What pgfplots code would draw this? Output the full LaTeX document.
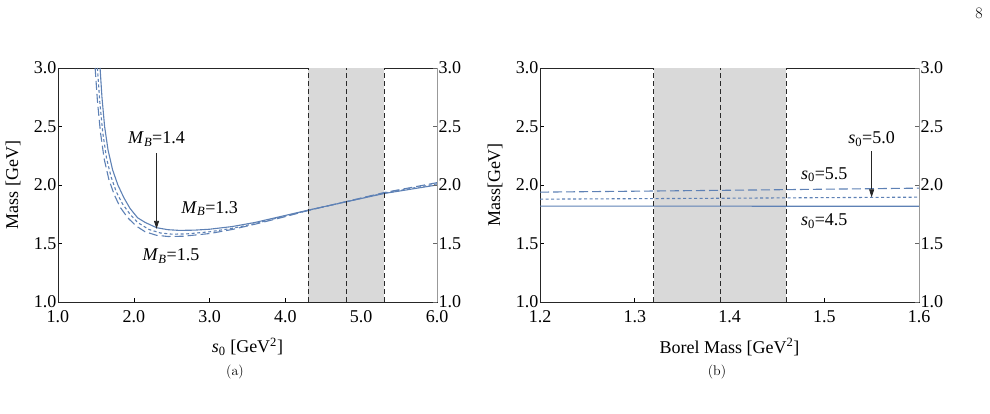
\documentclass[border=0pt]{standalone}
\usepackage{pgfplots}
\pgfplotsset{compat=1.18}
\usepackage{fontspec}
\setmainfont{Liberation Serif}
\newfontfamily\lmfont{Latin Modern Roman}
\usetikzlibrary{arrows.meta}
\definecolor{mblue}{HTML}{5E81B5}
\definecolor{shade}{HTML}{D9D9D9}
\definecolor{vline}{HTML}{2A2A2A}

\newcommand{\lblfont}{\fontsize{18}{21}\selectfont}
\tikzset{
  ann/.style={font=\lblfont},
  arr/.style={-{Triangle[length=8pt,width=5pt]}, line width=0.8pt, black!85},
}
\pgfplotsset{
  base/.style={
    scale only axis, width=379pt, height=234pt,
    anchor=south west,
    ymin=1, ymax=3,
    ytick={1.0,1.5,2.0,2.5,3.0},
    yticklabels={1.0,1.5,2.0,2.5,3.0},
    tick align=inside,
    major tick length=4pt,
    minor tick num=0,
    tick label style={font=\lblfont},
    every tick/.style={black, line width=0.6pt},
  },
  main/.style={
    base,
    xtick pos=lower, ytick pos=left,
    axis line style={black!85, line width=0.7pt},
    xticklabel style={yshift=-5pt},
    yticklabel style={xshift=2pt},
    every axis y label/.style={at={(axis description cs:0,0.5)}, xshift=-45pt, rotate=90, anchor=center, font=\lblfont},
    every axis x label/.style={at={(axis description cs:0.5,0)}, yshift=-45pt, anchor=center, font=\lblfont},
  },
  side/.style={
    base,
    axis x line=none, axis y line*=right,
    ytick pos=right, yticklabel pos=right,
    yticklabel style={xshift=-2pt},
    axis line style={gray!80, line width=0.7pt, -},
    every tick/.style={gray!80!black, line width=0.6pt},
  },
}

\begin{document}
\begin{tikzpicture}
\path[use as bounding box] (0,0) rectangle (990pt,414pt);

% ---------------- panel (a) ----------------
\begin{axis}[main, at={(58pt,112pt)},
  xmin=1, xmax=6, xtick={1,2,3,4,5,6},
  xticklabels={1.0,2.0,3.0,4.0,5.0,6.0},
  xlabel={\textit{s}\textsubscript{0} [GeV\textsuperscript{2}]},
  ylabel={Mass [GeV]}]
\addplot[fill=shade, draw=none] coordinates {(4.3,1) (5.3,1) (5.3,3) (4.3,3)} -- cycle;
% M_B = 1.3 (solid)
\addplot[mblue, line width=1.1pt] coordinates {
(1.555,3.0) (1.58,2.75) (1.615,2.5) (1.66,2.3) (1.72,2.13) (1.79,2.0) (1.87,1.89)
(1.95,1.80) (2.05,1.72) (2.15,1.68) (2.3,1.635) (2.45,1.618) (2.6,1.612) (2.8,1.614)
(3.0,1.622) (3.3,1.645) (3.6,1.68) (4.0,1.74) (4.3,1.785) (4.8,1.856) (5.3,1.927) (6.0,2.0)};
% M_B = 1.4 (dotted)
\addplot[mblue, line width=1.1pt, dash pattern=on 3pt off 2.5pt] coordinates {
(1.52,3.0) (1.55,2.72) (1.59,2.45) (1.64,2.23) (1.70,2.07) (1.77,1.94) (1.85,1.84)
(1.95,1.75) (2.05,1.68) (2.2,1.62) (2.35,1.59) (2.5,1.58) (2.7,1.582) (3.0,1.60)
(3.3,1.63) (3.6,1.67) (4.0,1.735) (4.3,1.783) (4.8,1.857) (5.3,1.93) (6.0,2.01)};
% M_B = 1.5 (dashed)
\addplot[mblue, line width=1.1pt, dash pattern=on 9pt off 4pt] coordinates {
(1.49,3.0) (1.52,2.72) (1.56,2.45) (1.61,2.22) (1.67,2.05) (1.74,1.92) (1.82,1.81)
(1.92,1.72) (2.03,1.65) (2.15,1.6) (2.3,1.57) (2.45,1.56) (2.65,1.562) (3.0,1.585)
(3.3,1.62) (3.6,1.665) (4.0,1.73) (4.3,1.782) (4.8,1.858) (5.3,1.935) (6.0,2.02)};
\addplot[vline, line width=0.8pt, dash pattern=on 5pt off 3pt] coordinates {(4.3,1) (4.3,3)};
\addplot[vline, line width=0.8pt, dash pattern=on 5pt off 3pt] coordinates {(4.8,1) (4.8,3)};
\addplot[vline, line width=0.8pt, dash pattern=on 5pt off 3pt] coordinates {(5.3,1) (5.3,3)};
\node[ann] at (axis cs:2.3,2.39) {\textit{M}\textsubscript{\textit{B}}=1.4};
\draw[arr] (axis cs:2.3,2.27) -- (axis cs:2.3,1.625);
\node[ann] at (axis cs:3.0,1.80) {\textit{M}\textsubscript{\textit{B}}=1.3};
\node[ann] at (axis cs:2.49,1.39) {\textit{M}\textsubscript{\textit{B}}=1.5};
\end{axis}
\begin{axis}[side, at={(58pt,112pt)}, xmin=1, xmax=6]
\end{axis}

% ---------------- panel (b) ----------------
\begin{axis}[main, at={(540pt,112pt)},
  xmin=1.2, xmax=1.6, xtick={1.2,1.3,1.4,1.5,1.6},
  xticklabels={1.2,1.3,1.4,1.5,1.6},
  xlabel={Borel Mass [GeV\textsuperscript{2}]},
  ylabel={Mass[GeV]}]
\addplot[fill=shade, draw=none] coordinates {(1.32,1) (1.46,1) (1.46,3) (1.32,3)} -- cycle;
% s0 = 4.5 (solid)
\addplot[mblue, line width=1.1pt] coordinates {
(1.2,1.820) (1.3,1.819) (1.4,1.819) (1.5,1.818) (1.6,1.818)};
% s0 = 5.0 (dotted)
\addplot[mblue, line width=1.1pt, dash pattern=on 3pt off 2.5pt] coordinates {
(1.2,1.879) (1.3,1.883) (1.4,1.887) (1.5,1.892) (1.6,1.896)};
% s0 = 5.5 (dashed)
\addplot[mblue, line width=1.1pt, dash pattern=on 9pt off 4pt] coordinates {
(1.2,1.939) (1.3,1.947) (1.4,1.955) (1.5,1.964) (1.6,1.973)};
\addplot[vline, line width=0.8pt, dash pattern=on 5pt off 3pt] coordinates {(1.32,1) (1.32,3)};
\addplot[vline, line width=0.8pt, dash pattern=on 5pt off 3pt] coordinates {(1.39,1) (1.39,3)};
\addplot[vline, line width=0.8pt, dash pattern=on 5pt off 3pt] coordinates {(1.46,1) (1.46,3)};
\node[ann] at (axis cs:1.55,2.39) {\textit{s}\textsubscript{0}=5.0};
\draw[arr] (axis cs:1.55,2.29) -- (axis cs:1.55,1.895);
\node[ann] at (axis cs:1.50,2.09) {\textit{s}\textsubscript{0}=5.5};
\node[ann] at (axis cs:1.50,1.69) {\textit{s}\textsubscript{0}=4.5};
\end{axis}
\begin{axis}[side, at={(540pt,112pt)}, xmin=1.2, xmax=1.6]
\end{axis}

% captions and page number
\node[font=\lmfont\fontsize{14}{16}\selectfont] at (235pt,42pt) {(a)};
\node[font=\lmfont\fontsize{14}{16}\selectfont] at (717pt,42pt) {(b)};
\node[font=\lmfont\fontsize{16}{18}\selectfont] at (979pt,401pt) {8};
\end{tikzpicture}
\end{document}
